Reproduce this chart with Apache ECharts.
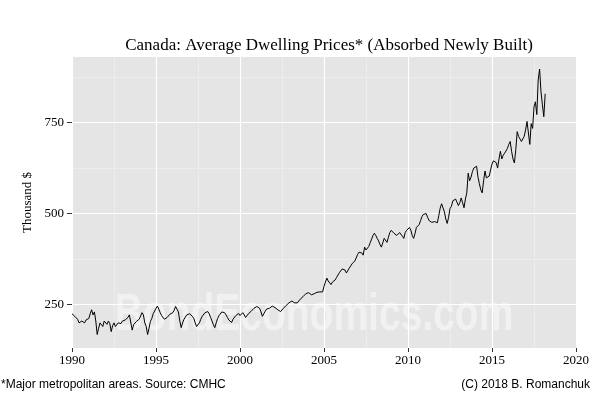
<!DOCTYPE html>
<html>
<head>
<meta charset="utf-8">
<script src="https://cdn.jsdelivr.net/npm/echarts@6/dist/echarts.min.js"></script>
<style>
  html, body { margin: 0; padding: 0; background: #fff; }
  #chart { width: 600px; height: 400px; }
</style>
</head>
<body>
<div id="chart"></div>
<script>
// monthly average prices, thousand $, Jan 1990 - Mar 2018
var startYear = 1990;
var prices1990s = [
  225, 220, 218, 222, 210, 200, 196, 205, 203, 200, 208, 205,   // 1990
  212, 225, 236, 222, 230, 205, 168, 185, 200, 196, 190, 205,   // 1991
  200, 196, 205, 198, 176, 192, 200, 190, 185, 200, 204, 198,   // 1992
  205, 210, 208, 212, 215, 222, 225, 180, 195, 200, 204, 208,   // 1993
  210, 215, 228, 222, 200, 190, 168, 185, 204, 212, 225, 230,   // 1994
  240, 246, 238, 228, 220, 215, 210, 208, 215, 220, 224, 222,   // 1995
  228, 235, 245, 250, 230, 205, 187, 200, 210, 215, 222, 226,   // 1996
  225, 220, 218, 212, 200, 190, 187, 200, 210, 218, 222, 228,   // 1997
  226, 231, 225, 215, 205, 195, 187, 200, 212, 220, 225, 230,   // 1998
  231, 228, 222, 215, 208, 203, 201, 210, 215, 220, 222, 226    // 1999
];
var prices2000s = [
  220, 225, 228, 222, 215, 218, 225, 230, 232, 236, 240, 243,   // 2000
  245, 243, 240, 230, 218, 225, 232, 238, 242, 240, 244, 246,   // 2001
  245, 242, 238, 236, 232, 231, 235, 240, 245, 248, 250, 255,   // 2002
  258, 260, 256, 255, 254, 255, 260, 265, 268, 272, 276, 280,   // 2003
  285, 283, 280, 277, 278, 280, 282, 284, 283, 285, 286, 285,   // 2004
  300, 312, 323, 315, 310, 305, 312, 310, 318, 325, 330, 338,   // 2005
  342, 348, 353, 345, 337, 342, 350, 356, 362, 365, 370, 378,   // 2006
  388, 394, 399, 392, 386, 408, 400, 399, 410, 420, 430, 440,   // 2007
  446, 440, 432, 425, 415, 408, 420, 432, 428, 421, 435, 448,   // 2008
  454, 450, 446, 442, 440, 444, 448, 445, 438, 432, 448, 454    // 2009
];
var prices2010s = [
  458, 462, 455, 440, 432, 445, 462, 458, 470, 481, 492, 498,   // 2010
  503, 500, 490, 481, 478, 476, 475, 478, 476, 475, 495, 515,   // 2011
  527, 522, 505, 485, 473, 490, 514, 520, 535, 530, 540, 535,   // 2012
  522, 530, 543, 530, 516, 540, 557, 611, 590, 600, 615, 625,   // 2013
  630, 630, 600, 582, 565, 557, 590, 617, 598, 600, 603, 620,   // 2014
  636, 645, 650, 640, 625, 650, 671, 650, 660, 666, 672, 679,   // 2015
  690, 698, 671, 650, 639, 676, 725, 712, 705, 698, 705, 712,   // 2016
  730, 753, 758, 690, 747, 734, 793, 807, 772, 867, 897, 834,   // 2017
  799, 766, 829                                                 // 2018
];
var yTicks = [250, 500, 750];
var yMinorGrid = [375, 625, 875];
var xTicks = [1990, 1995, 2000, 2005, 2010, 2015, 2020];
var xMinorGrid = [1992.5, 1997.5, 2002.5, 2007.5, 2012.5, 2017.5];

var prices = prices1990s.concat(prices2000s, prices2010s);
var seriesData = prices.map(function (v, i) {
  return [startYear + i / 12, v];
});

// ggplot style panel grid, drawn as mark lines
var gridLines = [];
yMinorGrid.forEach(function (v) {
  gridLines.push({ yAxis: v, lineStyle: { color: '#f2f2f2', width: 0.6, type: 'solid' } });
});
xMinorGrid.forEach(function (v) {
  gridLines.push({ xAxis: v, lineStyle: { color: '#f2f2f2', width: 0.6, type: 'solid' } });
});
yTicks.forEach(function (v) {
  gridLines.push({ yAxis: v, lineStyle: { color: '#ffffff', width: 1.2, type: 'solid' } });
});
xTicks.forEach(function (v) {
  gridLines.push({ xAxis: v, lineStyle: { color: '#ffffff', width: 1.2, type: 'solid' } });
});

var serif = '"Liberation Serif", "DejaVu Serif", serif';
var sans = '"Liberation Sans", Arial, sans-serif';

var chart = echarts.init(document.getElementById('chart'));
chart.setOption({
  animation: false,
  title: {
    text: 'Canada: Average Dwelling Prices* (Absorbed Newly Built)',
    left: 324,
    textAlign: 'center',
    top: 32,
    textStyle: { fontFamily: serif, fontSize: 17, fontWeight: 'normal', color: '#000' }
  },
  grid: {
    left: 72, right: 24, top: 57, bottom: 52,
    show: true, backgroundColor: '#e5e5e5', borderWidth: 0
  },
  graphic: [
    {
      // watermark
      type: 'text', x: 314, y: 316, z: 1, scaleX: 0.75,
      style: {
        text: 'BondEconomics.com', fill: 'rgba(255,255,255,0.45)',
        font: 'bold 52px "Liberation Sans", Arial, sans-serif',
        textAlign: 'center', textVerticalAlign: 'middle'
      }
    },
    {
      type: 'text', left: 1, top: 379,
      style: { text: '*Major metropolitan areas. Source: CMHC', fill: '#000', font: '12px ' + sans }
    },
    {
      type: 'text', right: 10, top: 379,
      style: { text: '(C) 2018 B. Romanchuk', fill: '#000', font: '12px ' + sans }
    }
  ],
  xAxis: {
    type: 'value',
    min: 1990, max: 2020, interval: 5,
    axisLine: { show: false },
    axisTick: { show: true, length: 4, lineStyle: { color: '#333', width: 1 } },
    axisLabel: {
      fontFamily: serif, fontSize: 13, color: '#000', margin: 6,
      formatter: function (v) { return String(v); }
    },
    splitLine: { show: false }
  },
  yAxis: {
    type: 'value',
    min: 131, max: 930,
    name: 'Thousand $',
    nameLocation: 'middle',
    nameGap: 38,
    nameTextStyle: { fontFamily: serif, fontSize: 13, color: '#000' },
    axisLine: { show: false },
    axisTick: { show: true, length: 5, customValues: yTicks, lineStyle: { color: '#333', width: 1 } },
    axisLabel: { fontFamily: serif, fontSize: 13, color: '#000', margin: 8, customValues: yTicks },
    splitLine: { show: false }
  },
  series: [
    {
      type: 'line',
      data: seriesData,
      showSymbol: false,
      lineStyle: { color: '#000', width: 1 },
      z: 3,
      markLine: {
        silent: true,
        symbol: 'none',
        label: { show: false },
        z: 0,
        data: gridLines
      }
    }
  ]
});
</script>
</body>
</html>
